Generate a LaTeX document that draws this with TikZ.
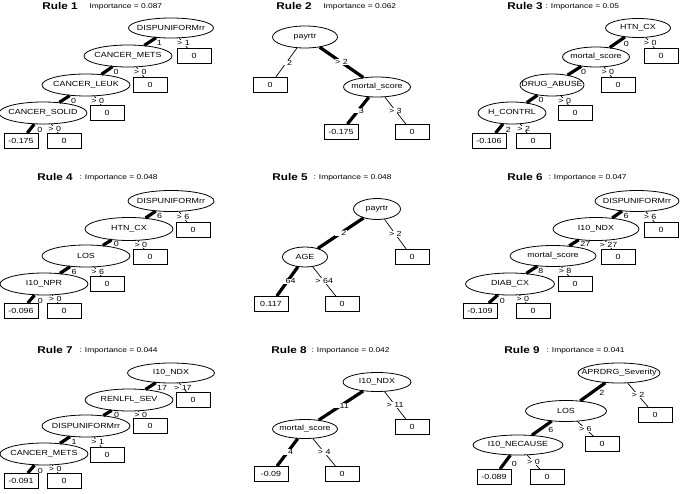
\documentclass[tikz,border=0pt]{standalone}
\usepackage{fontspec}
\setmainfont{Liberation Sans}[FakeStretch=1.2]
\usetikzlibrary{shapes.geometric}
\newcommand{\zw}[1]{\makebox[0pt]{#1}}
\newcommand{\fs}{\fontsize{7.4}{8}\selectfont}
\tikzset{
  ell/.style={draw, ellipse, line width=0.8pt, inner sep=0pt, font=\fs, minimum width=88pt, minimum height=22pt},
  leaf/.style={draw, rectangle, line width=1pt, minimum width=34pt, minimum height=15pt, inner sep=0pt, font=\fs},
  yes/.style={line width=3.2pt},
  no/.style={line width=0.7pt},
  ylab/.style={right=5pt, yshift=-1.5pt, font=\fs, inner sep=0pt},
  nlab/.style={fill=white, font=\fs, inner sep=0.3pt},
  ttl/.style={font=\bfseries\fontsize{9.8}{10}\selectfont},
  imp/.style={anchor=west, font=\fontsize{7}{8}\selectfont}
}
\begin{document}
\begin{tikzpicture}[x=1pt,y=-1pt]
\useasboundingbox[fill=white] (0,0) rectangle (685,494);

% ---------------- Rule 1
\node[ttl] (t1) at (60,6) {Rule 1};
\node[imp] (i1) at (86,7) {Importance = 0.087};
\node[ell, minimum width=85pt, minimum height=20pt] (a1) at (171,28) {\zw{DISPUNIFORMrr}};
\node[ell] (b1) at (128,56) {\zw{CANCER\_METS}};
\node[ell] (c1) at (86,85) {\zw{CANCER\_LEUK}};
\node[ell] (d1) at (43,113) {\zw{CANCER\_SOLID}};
\node[leaf] (ab1) at (194,56) {0};
\node[leaf] (bb1) at (150,85) {0};
\node[leaf] (cb1) at (107,113) {0};
\node[leaf] (dl1) at (21,141) {-0.175};
\node[leaf] (dr1) at (64,141) {0};
\draw[yes] (a1) -- node[ylab]{1} (b1);
\draw[no] (a1) -- node[nlab]{> 1} (ab1);
\draw[yes] (b1) -- node[ylab]{0} (c1);
\draw[no] (b1) -- node[nlab]{> 0} (bb1);
\draw[yes] (c1) -- node[ylab]{0} (d1);
\draw[no] (c1) -- node[nlab]{> 0} (cb1);
\draw[yes] (d1) -- node[ylab]{0} (dl1);
\draw[no] (d1) -- node[nlab]{> 0} (dr1);

% ---------------- Rule 2
\node[ttl] (t2) at (294,6) {Rule 2};
\node[imp] (i2) at (320,7) {Importance = 0.062};
\node[ell, minimum width=65pt, minimum height=22pt] (a2) at (305,37) {\zw{payrtr}};
\node[ell, minimum width=67pt, minimum height=20pt] (b2) at (377,87) {\zw{mortal\_score}};
\node[leaf] (ab2) at (270,85) {0};
\node[leaf] (bl2) at (341,132) {-0.175};
\node[leaf] (br2) at (412,132) {0};
\draw[no] (a2) -- node[nlab]{\phantom{>\,}2} (ab2);
\draw[yes] (a2) -- node[nlab]{> 2} (b2);
\draw[yes] (b2) -- node[nlab]{\phantom{>\,}3} (bl2);
\draw[no] (b2) -- node[nlab]{> 3} (br2);

% ---------------- Rule 3
\node[ttl] (t3) at (525,6) {Rule 3};
\node[imp] (i3) at (542,7) {: Importance = 0.05};
\node[ell, minimum width=65pt, minimum height=19pt] (a3) at (638,28) {\zw{HTN\_CX}};
\node[ell, minimum width=67pt, minimum height=20pt] (b3) at (596,57) {\zw{mortal\_score}};
\node[ell, minimum width=64pt, minimum height=22pt] (c3) at (552,85) {\zw{DRUG\_ABUSE}};
\node[ell, minimum width=68pt, minimum height=22pt] (d3) at (512,113) {\zw{H\_CONTRL}};
\node[leaf] (ab3) at (661,56) {0};
\node[leaf] (bb3) at (618,85) {0};
\node[leaf] (cb3) at (575,113) {0};
\node[leaf] (dl3) at (489,141) {-0.106};
\node[leaf] (dr3) at (533,141) {0};
\draw[yes] (a3) -- node[ylab]{0} (b3);
\draw[no] (a3) -- node[nlab]{> 0} (ab3);
\draw[yes] (b3) -- node[ylab]{0} (c3);
\draw[no] (b3) -- node[nlab]{> 0} (bb3);
\draw[yes] (c3) -- node[ylab]{0} (d3);
\draw[no] (c3) -- node[nlab]{> 0} (cb3);
\draw[yes] (d3) -- node[ylab]{2} (dl3);
\draw[no] (d3) -- node[nlab]{> 2} (dr3);

% ---------------- Rule 4
\node[ttl] (t4) at (55,177) {Rule 4};
\node[imp] (i4) at (76,178) {: Importance = 0.048};
\node[ell, minimum width=86pt, minimum height=21pt] (a4) at (171,201) {\zw{DISPUNIFORMrr}};
\node[ell, minimum height=23pt] (b4) at (129,229) {\zw{HTN\_CX}};
\node[ell] (c4) at (86,256) {\zw{LOS}};
\node[ell] (d4) at (44,284) {\zw{I10\_NPR}};
\node[leaf] (ab4) at (193,230) {0};
\node[leaf] (bb4) at (150,257) {0};
\node[leaf] (cb4) at (107,284) {0};
\node[leaf] (dl4) at (21,311) {-0.096};
\node[leaf] (dr4) at (64,311) {0};
\draw[yes] (a4) -- node[ylab]{6} (b4);
\draw[no] (a4) -- node[nlab]{> 6} (ab4);
\draw[yes] (b4) -- node[ylab]{0} (c4);
\draw[no] (b4) -- node[nlab]{> 0} (bb4);
\draw[yes] (c4) -- node[ylab]{6} (d4);
\draw[no] (c4) -- node[nlab]{> 6} (cb4);
\draw[yes] (d4) -- node[ylab]{0} (dl4);
\draw[no] (d4) -- node[nlab]{> 0} (dr4);

% ---------------- Rule 5
\node[ttl] (t5) at (290,177) {Rule 5};
\node[imp] (i5) at (310,178) {: Importance = 0.048};
\node[ell, minimum width=47pt, minimum height=21pt] (a5) at (377,209) {\zw{payrtr}};
\node[ell, minimum width=45pt, minimum height=20pt] (b5) at (305,257) {\zw{AGE}};
\node[leaf] (ab5) at (412,257) {0};
\node[leaf] (bl5) at (271,304) {0.117};
\node[leaf] (br5) at (342,304) {0};
\draw[yes] (a5) -- node[nlab]{\phantom{>\,}2} (b5);
\draw[no] (a5) -- node[nlab]{> 2} (ab5);
\draw[yes] (b5) -- node[nlab]{\phantom{>\,}64} (bl5);
\draw[no] (b5) -- node[nlab]{> 64} (br5);

% ---------------- Rule 6
\node[ttl] (t6) at (525,177) {Rule 6};
\node[imp] (i6) at (545,178) {: Importance = 0.047};
\node[ell, minimum width=84pt, minimum height=21pt] (a6) at (637,201) {\zw{DISPUNIFORMrr}};
\node[ell, minimum width=86pt, minimum height=23pt] (b6) at (596,229) {\zw{I10\_NDX}};
\node[ell, minimum width=86pt, minimum height=21pt] (c6) at (553,256) {\zw{mortal\_score}};
\node[ell, minimum width=89pt] (d6) at (510,284) {\zw{DIAB\_CX}};
\node[leaf] (ab6) at (661,230) {0};
\node[leaf] (bb6) at (618,257) {0};
\node[leaf] (cb6) at (575,284) {0};
\node[leaf] (dl6) at (480,311) {-0.109};
\node[leaf] (dr6) at (533,311) {0};
\draw[yes] (a6) -- node[ylab]{6} (b6);
\draw[no] (a6) -- node[nlab]{> 6} (ab6);
\draw[yes] (b6) -- node[ylab]{27} (c6);
\draw[no] (b6) -- node[nlab]{> 27} (bb6);
\draw[yes] (c6) -- node[ylab]{8} (d6);
\draw[no] (c6) -- node[nlab]{> 8} (cb6);
\draw[yes] (d6) -- node[ylab]{0} (dl6);
\draw[no] (d6) -- node[nlab]{> 0} (dr6);

% ---------------- Rule 7
\node[ttl] (t7) at (55,350) {Rule 7};
\node[imp] (i7) at (76,351) {: Importance = 0.044};
\node[ell, minimum width=87pt, minimum height=20pt] (a7) at (171,373) {\zw{I10\_NDX}};
\node[ell] (b7) at (129,400) {\zw{RENLFL\_SEV}};
\node[ell] (c7) at (86,426) {\zw{DISPUNIFORMrr}};
\node[ell] (d7) at (44,454) {\zw{CANCER\_METS}};
\node[leaf] (ab7) at (193,400) {0};
\node[leaf] (bb7) at (150,426) {0};
\node[leaf] (cb7) at (107,455) {0};
\node[leaf] (dl7) at (21,481) {-0.091};
\node[leaf] (dr7) at (64,481) {0};
\draw[yes] (a7) -- node[ylab]{17} (b7);
\draw[no] (a7) -- node[nlab]{> 17} (ab7);
\draw[yes] (b7) -- node[ylab]{0} (c7);
\draw[no] (b7) -- node[nlab]{> 0} (bb7);
\draw[yes] (c7) -- node[ylab]{1} (d7);
\draw[no] (c7) -- node[nlab]{> 1} (cb7);
\draw[yes] (d7) -- node[ylab]{0} (dl7);
\draw[no] (d7) -- node[nlab]{> 0} (dr7);

% ---------------- Rule 8
\node[ttl] (t8) at (289,350) {Rule 8};
\node[imp] (i8) at (308,351) {: Importance = 0.042};
\node[ell, minimum width=68pt, minimum height=19pt] (a8) at (377,382) {\zw{I10\_NDX}};
\node[ell, minimum width=65pt, minimum height=19pt] (b8) at (305,429) {\zw{mortal\_score}};
\node[leaf] (ab8) at (412,427) {0};
\node[leaf] (bl8) at (271,474) {-0.09};
\node[leaf] (br8) at (342,474) {0};
\draw[yes] (a8) -- node[nlab]{\phantom{>\,}11} (b8);
\draw[no] (a8) -- node[nlab]{> 11} (ab8);
\draw[yes] (b8) -- node[nlab]{\phantom{>\,}4} (bl8);
\draw[no] (b8) -- node[nlab]{> 4} (br8);

% ---------------- Rule 9
\node[ttl] (t9) at (522,350) {Rule 9};
\node[imp] (i9) at (543,351) {: Importance = 0.041};
\node[ell, minimum width=82pt, minimum height=20pt] (a9) at (619,373) {\zw{APRDRG\_Severity}};
\node[ell, minimum width=81pt, minimum height=21pt] (b9) at (566,411) {\zw{LOS}};
\node[ell, minimum width=90pt, minimum height=20pt] (c9) at (518,445) {\zw{I10\_NECAUSE}};
\node[leaf] (ab9) at (655,415) {0};
\node[leaf] (bb9) at (602,444) {0};
\node[leaf] (cl9) at (494,477) {-0.089};
\node[leaf] (cr9) at (547,477) {0};
\draw[yes] (a9) -- node[ylab]{2} (b9);
\draw[no] (a9) -- node[nlab]{> 2} (ab9);
\draw[yes] (b9) -- node[ylab]{6} (c9);
\draw[no] (b9) -- node[nlab]{> 6} (bb9);
\draw[yes] (c9) -- node[ylab]{0} (cl9);
\draw[no] (c9) -- node[nlab]{> 0} (cr9);
\end{tikzpicture}
\end{document}
